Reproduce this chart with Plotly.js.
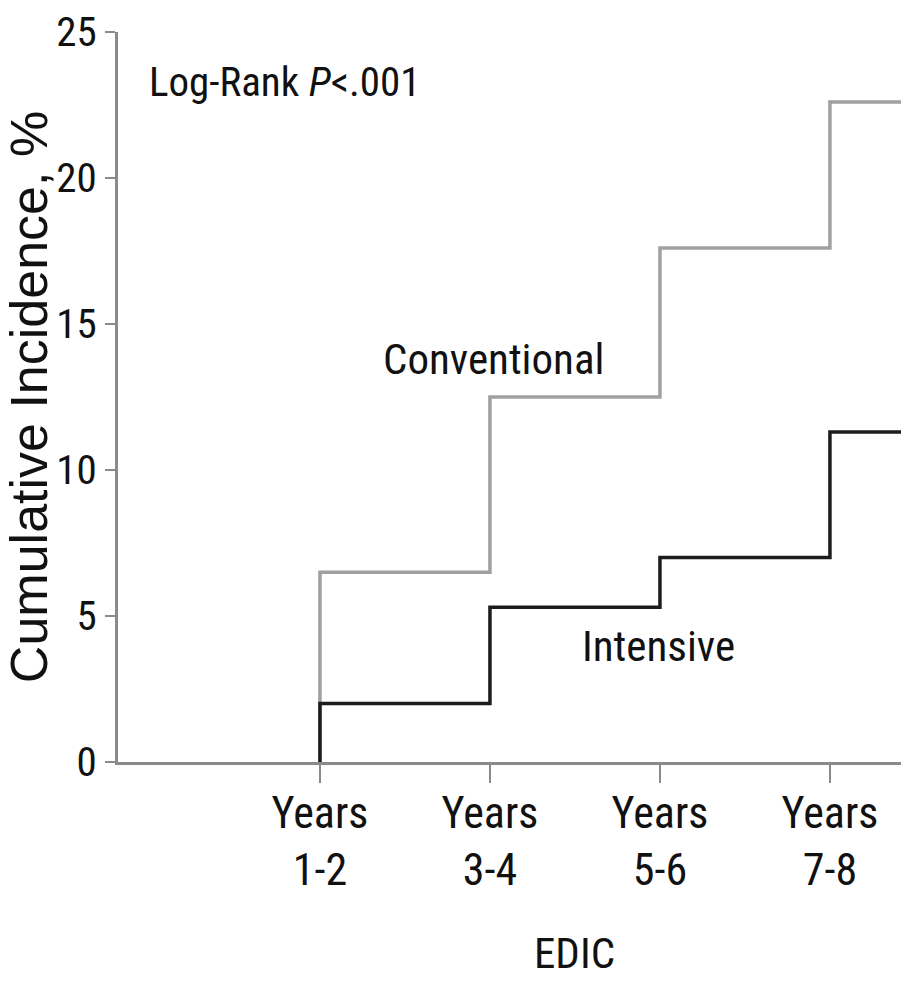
<!DOCTYPE html>
<html>
<head>
<meta charset="utf-8">
<script src="https://cdn.plot.ly/plotly-3.0.1.min.js"></script>
<style>
  html, body { margin: 0; padding: 0; background: #fff; }
  #chart { width: 901px; height: 982px; }
</style>
</head>
<body>
<div id="chart"></div>
<script>
// EDIC follow-up periods (x positions 1..4), plus end of follow-up
const periods = [1, 2, 3, 4];
const periodLabels = ["Years<br>1-2", "Years<br>3-4", "Years<br>5-6", "Years<br>7-8"];
const followUpEnd = 4.42;

// Cumulative incidence, % (step values at each period)
const conventional = [6.5, 12.5, 17.6, 22.6];
const intensive = [2.0, 5.3, 7.0, 11.3];

// y-axis ticks
const yTicks = [0, 5, 10, 15, 20, 25];

function stepSeries(vals) {
  const x = [periods[0]].concat(periods, [followUpEnd]);
  const y = [0].concat(vals, [vals[vals.length - 1]]);
  return { x, y };
}

const conv = stepSeries(conventional);
const inten = stepSeries(intensive);

const narrow = "Roboto Condensed, Liberation Sans Narrow, Arial Narrow, sans-serif";
const regular = "Liberation Sans, Arial, Helvetica, sans-serif";

const traces = [
  {
    x: conv.x, y: conv.y, mode: "lines", name: "Conventional",
    line: { shape: "hv", color: "#a0a0a0", width: 3.5 },
    hoverinfo: "skip", showlegend: false
  },
  {
    x: inten.x, y: inten.y, mode: "lines", name: "Intensive",
    line: { shape: "hv", color: "#1c1c1c", width: 3.5 },
    hoverinfo: "skip", showlegend: false
  }
];

const layout = {
  width: 901, height: 982,
  margin: { l: 118, r: 0, t: 32, b: 220 },
  paper_bgcolor: "#ffffff",
  plot_bgcolor: "#ffffff",
  showlegend: false,
  xaxis: {
    range: [-0.188, 4.418],
    tickmode: "array",
    tickvals: periods,
    ticktext: periodLabels,
    ticks: "outside", ticklen: 18, tickwidth: 2, tickcolor: "#8a8a8a",
    ticklabelstandoff: -8,
    showline: true, linecolor: "#8a8a8a", linewidth: 3,
    showgrid: false, zeroline: false,
    tickfont: { family: narrow, size: 44, color: "#111" },
    fixedrange: true
  },
  yaxis: {
    range: [0, 25],
    tickmode: "array",
    tickvals: yTicks,
    ticks: "outside", ticklen: 10, tickwidth: 2, tickcolor: "#8a8a8a",
    showline: true, linecolor: "#8a8a8a", linewidth: 3,
    showgrid: false, zeroline: false,
    tickfont: { family: narrow, size: 41, color: "#111" },
    title: { text: "Cumulative Incidence, %", font: { family: regular, size: 52, color: "#111" }, standoff: 5 },
    automargin: false,
    fixedrange: true
  },
  annotations: [
    {
      text: "Log-Rank <i>P</i>&lt;.001", xref: "paper", yref: "y",
      x: 0.037, y: 23.3, xanchor: "left", yanchor: "middle", showarrow: false,
      font: { family: narrow, size: 41, color: "#111" }
    },
    {
      text: "Conventional", xref: "x", yref: "y",
      x: 2.02, y: 13.8, xanchor: "center", yanchor: "middle", showarrow: false,
      font: { family: narrow, size: 43, color: "#111" }
    },
    {
      text: "Intensive", xref: "x", yref: "y",
      x: 2.99, y: 3.97, xanchor: "center", yanchor: "middle", showarrow: false,
      font: { family: narrow, size: 43, color: "#111" }
    },
    {
      text: "EDIC", xref: "x", yref: "paper",
      x: (periods[0] + periods[periods.length - 1]) / 2, y: -0.298,
      xanchor: "center", yanchor: "bottom", showarrow: false,
      font: { family: narrow, size: 43, color: "#111" }
    }
  ]
};

Plotly.newPlot("chart", traces, layout, { staticPlot: true, displayModeBar: false });
</script>
</body>
</html>
